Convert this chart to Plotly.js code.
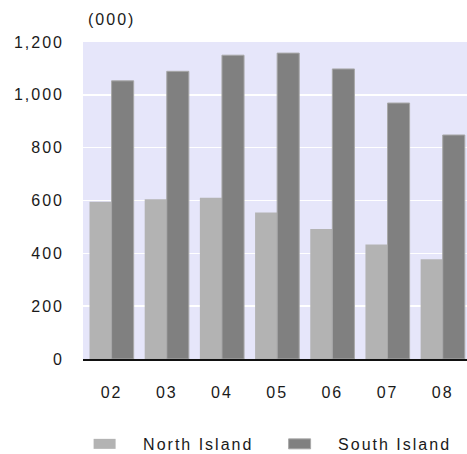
<!DOCTYPE html>
<html>
<head>
<meta charset="utf-8">
<script src="https://cdn.plot.ly/plotly-3.0.1.min.js"></script>
<style>
  html, body { margin: 0; padding: 0; background: #ffffff; }
  #chart { width: 467px; height: 454px; }
  #chart text { letter-spacing: 2px; }
</style>
</head>
<body>
<div id="chart"></div>
<script>
// Visitor numbers by island, in thousands
const years = ['02', '03', '04', '05', '06', '07', '08'];
const northIsland = [595, 605, 610, 555, 492, 433, 378];
const southIsland = [1053, 1089, 1150, 1158, 1098, 969, 848];
const seriesNames = ['North Island', 'South Island'];

const labelFont = { family: 'Arial, "Liberation Sans", sans-serif', size: 16, color: '#1a1a1a' };

const traces = [
  {
    type: 'bar',
    name: seriesNames[0],
    x: years,
    y: northIsland,
    marker: { color: '#b3b3b3', line: { width: 0 } },
    hoverinfo: 'x+y+name'
  },
  {
    type: 'bar',
    name: seriesNames[1],
    x: years,
    y: southIsland,
    marker: { color: '#808080', line: { color: '#a8a8a8', width: 1 } },
    hoverinfo: 'x+y+name'
  }
];

const layout = {
  width: 467,
  height: 454,
  margin: { l: 83, r: 0, t: 42, b: 95, pad: 0, autoexpand: false },
  paper_bgcolor: '#ffffff',
  plot_bgcolor: '#e6e6fa',
  barmode: 'group',
  bargap: 0.2,
  bargroupgap: 0,
  font: labelFont,
  xaxis: {
    type: 'category',
    range: [-0.518, 6.44],
    showgrid: false,
    zeroline: false,
    showline: true,
    linecolor: '#111111',
    linewidth: 2,
    ticks: '',
    ticklabelstandoff: 18,
    tickfont: labelFont,
    fixedrange: true
  },
  yaxis: {
    range: [0, 1200],
    tickvals: [0, 200, 400, 600, 800, 1000, 1200],
    ticktext: ['0', '200', '400', '600', '800', '1,000', '1,200'],
    showgrid: true,
    gridcolor: '#ffffff',
    gridwidth: 1.5,
    zeroline: false,
    showline: false,
    ticks: '',
    ticklabelstandoff: 18,
    tickfont: labelFont,
    fixedrange: true
  },
  showlegend: true,
  legend: {
    orientation: 'h',
    x: -0.044,
    xanchor: 'left',
    y: -0.268,
    yanchor: 'middle',
    font: labelFont,
    entrywidth: 113,
    entrywidthmode: 'pixels',
    itemwidth: 67,
    bgcolor: 'rgba(0,0,0,0)',
    traceorder: 'normal'
  },
  annotations: [
    {
      text: '(000)',
      xref: 'paper',
      yref: 'paper',
      x: 0.075,
      y: 1.07,
      xanchor: 'center',
      yanchor: 'middle',
      showarrow: false,
      font: labelFont
    }
  ]
};

Plotly.newPlot('chart', traces, layout, { displayModeBar: false, staticPlot: true }).then(function (gd) {
  // Wide, flat legend swatches
  gd.querySelectorAll('.legendpoints path').forEach(function (p) {
    p.setAttribute('d', 'M11,5H-11V-5H11Z');
  });
});
</script>
</body>
</html>
